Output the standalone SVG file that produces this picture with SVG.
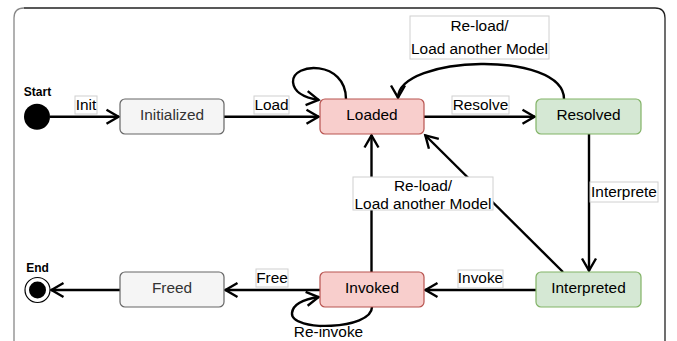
<svg xmlns="http://www.w3.org/2000/svg" width="677" height="341" viewBox="0 0 677 341">
  <style>
    .node { stroke-width: 1.2; }
    .gray { fill: #f5f5f5; stroke: #666666; }
    .red { fill: #f8cecc; stroke: #b85450; }
    .green { fill: #d5e8d4; stroke: #82b366; }
    .ntext { font-family: "Liberation Sans", Arial, sans-serif; font-size: 15.4px; text-anchor: middle; fill: #000; }
    .gtext { fill: #333333; }
    .ltext { font-family: "Liberation Sans", Arial, sans-serif; font-size: 15.4px; text-anchor: middle; fill: #000; }
    .lbox { fill: #ffffff; stroke: #d0d0d0; stroke-width: 1; }
    .edge { fill: none; stroke: #000; stroke-width: 2.4; marker-end: url(#open); }
    .btext { font-family: "Liberation Sans", Arial, sans-serif; font-size: 12px; font-weight: bold; text-anchor: middle; fill: #000; }
  </style>
  <defs>
    <marker id="open" markerUnits="userSpaceOnUse" markerWidth="20" markerHeight="20" viewBox="-16 -10 20 20" refX="0" refY="0" orient="auto">
      <path d="M -12.5 -7 L -0.5 0 L -12.5 7" fill="none" stroke="#000" stroke-width="2.4" stroke-linejoin="miter"/>
    </marker>
  </defs>

  <rect width="677" height="341" fill="#ffffff"/>

  <!-- outer frame (bottom edge runs past the canvas) -->
  <path d="M 14 360 L 14 18 Q 14 8 24 8" fill="none" stroke="#888888" stroke-width="1.3"/>
  <path d="M 24 8 L 655 8 Q 665 8 665 18 L 665 360" fill="none" stroke="#222222" stroke-width="1.3"/>

  <!-- connectors -->
  <g id="edges">
    <path class="edge" d="M 50 116.7 L 119 116.7"/>
    <path class="edge" d="M 224 116.7 L 319 116.7"/>
    <path class="edge" d="M 346 99 C 346 60, 292 62, 293 82 C 294 94, 306 98, 319 100"/>
    <path class="edge" d="M 424 116.7 L 535 116.7"/>
    <path class="edge" d="M 564 99 C 564 50, 398 55, 398 98"/>
    <path class="edge" d="M 589 134 L 589 271"/>
    <path class="edge" d="M 536 290 L 425 290"/>
    <path class="edge" d="M 563 272 L 425 135"/>
    <path class="edge" d="M 371.5 272 L 371.5 135"/>
    <path class="edge" d="M 320 290 L 225 290"/>
    <path class="edge" d="M 372 307 C 372 330, 290 332, 292 313 C 293 303, 305 299, 319 297"/>
    <path class="edge" d="M 120 290 L 51 290"/>
  </g>

  <!-- connector labels -->
  <g id="labels">
    <rect class="lbox" x="75" y="96" width="22" height="18"/>
    <text class="ltext" x="86" y="110">Init</text>
    <rect class="lbox" x="254" y="96" width="35" height="18"/>
    <text class="ltext" x="271.5" y="110">Load</text>
    <rect class="lbox" x="452" y="96" width="57" height="18"/>
    <text class="ltext" x="480.5" y="110">Resolve</text>
    <rect class="lbox" x="410" y="16" width="139" height="43"/>
    <text class="ltext" x="479.5" y="31">Re-load/</text>
    <text class="ltext" x="479.5" y="54">Load another Model</text>
    <rect class="lbox" x="590" y="182" width="68" height="20"/>
    <text class="ltext" x="624" y="196.5">Interprete</text>
    <rect class="lbox" x="353" y="177" width="140" height="33"/>
    <text class="ltext" x="423" y="191">Re-load/</text>
    <text class="ltext" x="423" y="208.5">Load another Model</text>
    <rect class="lbox" x="458" y="270" width="45" height="18"/>
    <text class="ltext" x="480.5" y="283">Invoke</text>
    <rect class="lbox" x="256" y="269" width="32" height="18"/>
    <text class="ltext" x="272" y="283">Free</text>
    <text class="ltext" x="328.5" y="337">Re-invoke</text>
  </g>

  <!-- nodes -->
  <g id="start">
    <circle cx="37" cy="116.7" r="13" fill="#000"/>
    <text class="btext" x="37.5" y="95.5">Start</text>
  </g>
  <g id="initialized">
    <rect class="node gray" x="120" y="99" width="104" height="35" rx="5"/>
    <text class="ntext gtext" x="172" y="119.5">Initialized</text>
  </g>
  <g id="loaded">
    <rect class="node red" x="320" y="99" width="104" height="35" rx="5"/>
    <text class="ntext" x="372" y="119.5">Loaded</text>
  </g>
  <g id="resolved">
    <rect class="node green" x="536" y="99" width="105" height="35" rx="5"/>
    <text class="ntext" x="588.5" y="119.5">Resolved</text>
  </g>
  <g id="interpreted">
    <rect class="node green" x="536" y="272" width="105" height="35" rx="5"/>
    <text class="ntext" x="588.5" y="292.7">Interpreted</text>
  </g>
  <g id="invoked">
    <rect class="node red" x="320" y="272" width="104" height="35" rx="5"/>
    <text class="ntext" x="372" y="292.7">Invoked</text>
  </g>
  <g id="freed">
    <rect class="node gray" x="120" y="272" width="104" height="35" rx="5"/>
    <text class="ntext gtext" x="172" y="292.7">Freed</text>
  </g>
  <g id="end">
    <circle cx="37.5" cy="290" r="12.5" fill="#ffffff" stroke="#000" stroke-width="1.2"/>
    <circle cx="37.5" cy="290" r="8.5" fill="#000"/>
    <text class="btext" x="37.5" y="271.7">End</text>
  </g>
</svg>
